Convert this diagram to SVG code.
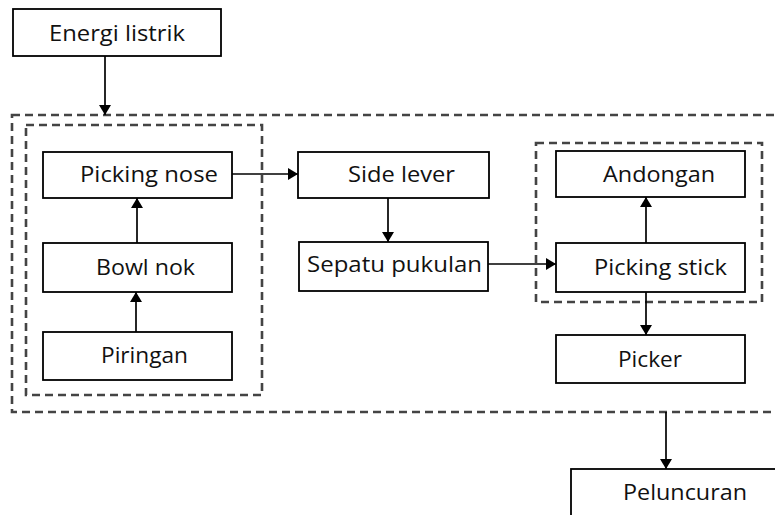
<svg xmlns="http://www.w3.org/2000/svg" width="775" height="515" viewBox="0 0 775 515">
<defs>
<marker id="ah" viewBox="0 0 10 12" refX="10" refY="6" markerWidth="10" markerHeight="12" markerUnits="userSpaceOnUse" orient="auto">
<path d="M0,0 L10,6 L0,12 Z" fill="#000"/>
</marker>
</defs>
<style>
.box{fill:#fff;stroke:#000;stroke-width:1.8}
.grp{fill:none;stroke:#444;stroke-width:2.6;stroke-dasharray:8 5}
.lbl{font-family:"Open Sans","Noto Sans","DejaVu Sans",sans-serif;font-size:21px;fill:#111}
.con{fill:none;stroke:#000;stroke-width:1.7;marker-end:url(#ah)}
</style>
<rect width="775" height="515" fill="#fff"/>
<g id="groups">
<rect id="outer-group" class="grp" x="12" y="115" width="790" height="297"/>
<rect id="left-group" class="grp" x="26" y="125" width="236" height="270"/>
<rect id="right-group" class="grp" x="536" y="143" width="226" height="159"/>
</g>
<g id="connectors">
<line class="con" x1="105" y1="56" x2="105" y2="115"/>
<line class="con" x1="137" y1="243" x2="137" y2="198"/>
<line class="con" x1="136" y1="332" x2="136" y2="292"/>
<line class="con" x1="232" y1="174" x2="298" y2="174"/>
<line class="con" x1="388" y1="198" x2="388" y2="242"/>
<line class="con" x1="488" y1="264" x2="556" y2="264"/>
<line class="con" x1="646" y1="243" x2="646" y2="197"/>
<line class="con" x1="646" y1="292" x2="646" y2="335"/>
<line class="con" x1="666" y1="412" x2="666" y2="469"/>
</g>
<g id="energi-listrik">
<rect class="box" x="13" y="9" width="208" height="47"/>
<text class="lbl" x="49" y="41" textLength="136" lengthAdjust="spacingAndGlyphs">Energi listrik</text>
</g>
<g id="picking-nose">
<rect class="box" x="43" y="152" width="189" height="46"/>
<text class="lbl" x="80" y="182" textLength="138" lengthAdjust="spacingAndGlyphs">Picking nose</text>
</g>
<g id="bowl-nok">
<rect class="box" x="43" y="243" width="189" height="49"/>
<text class="lbl" x="96" y="275" textLength="99" lengthAdjust="spacingAndGlyphs">Bowl nok</text>
</g>
<g id="piringan">
<rect class="box" x="43" y="332" width="189" height="48"/>
<text class="lbl" x="101" y="363" textLength="87" lengthAdjust="spacingAndGlyphs">Piringan</text>
</g>
<g id="side-lever">
<rect class="box" x="298" y="152" width="191" height="46"/>
<text class="lbl" x="348" y="182" textLength="107" lengthAdjust="spacingAndGlyphs">Side lever</text>
</g>
<g id="sepatu-pukulan">
<rect class="box" x="299" y="242" width="189" height="49"/>
<text class="lbl" x="307" y="272" textLength="175" lengthAdjust="spacingAndGlyphs">Sepatu pukulan</text>
</g>
<g id="andongan">
<rect class="box" x="556" y="151" width="189" height="46"/>
<text class="lbl" x="603" y="182" textLength="112" lengthAdjust="spacingAndGlyphs">Andongan</text>
</g>
<g id="picking-stick">
<rect class="box" x="556" y="243" width="189" height="49"/>
<text class="lbl" x="594" y="275" textLength="133" lengthAdjust="spacingAndGlyphs">Picking stick</text>
</g>
<g id="picker">
<rect class="box" x="556" y="335" width="189" height="48"/>
<text class="lbl" x="618" y="367" textLength="64" lengthAdjust="spacingAndGlyphs">Picker</text>
</g>
<g id="peluncuran">
<rect class="box" x="571" y="469" width="240" height="70"/>
<text class="lbl" x="623" y="500" textLength="124" lengthAdjust="spacingAndGlyphs">Peluncuran</text>
</g>
</svg>
